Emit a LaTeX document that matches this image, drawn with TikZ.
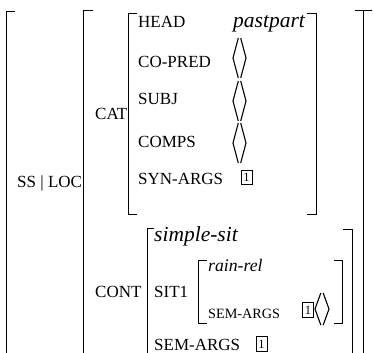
\documentclass[tikz,border=0pt]{standalone}
\usepackage{fontspec}
\setmainfont{Liberation Serif}
% empty list: a pair of tall angle brackets; #1 = left x, #2 = middle y, #3 = half height, #4 = half width
\newcommand\emptylist[4]{%
  \draw[anglepen] (#1+#4-1.2,#2-#3) -- (#1,#2) -- (#1+#4-1.2,#2+#3);
  \draw[anglepen] (#1+#4+1.2,#2-#3) -- (#1+2*#4,#2) -- (#1+#4+1.2,#2+#3);}
% square brackets: #1 = x, #2 = top, #3 = bottom, #4 = tick length (negative for a right bracket)
\newcommand\sqbrk[4]{\draw[brk] (#1+#4,#2) -- (#1,#2) -- (#1,#3) -- (#1+#4,#3);}
\begin{document}
\begin{tikzpicture}[x=1pt,y=-1pt,
  brk/.style={line width=0.95pt, line cap=rect},
  anglepen/.style={line width=1.1pt},
  attr/.style={inner sep=0pt, anchor=base west, font=\fontsize{17}{19}\selectfont},
  iattr/.style={inner sep=0pt, anchor=base west, font=\fontsize{14.2}{16}\selectfont},
  typ/.style={inner sep=0pt, anchor=base west, font=\fontsize{21.5}{24}\selectfont\itshape},
  ityp/.style={inner sep=0pt, anchor=base west, font=\fontsize{17.7}{20}\selectfont\itshape},
  tag/.style={draw, line width=0.7pt, inner sep=0pt, minimum width=11pt, minimum height=14.5pt,
    font=\fontsize{12.5}{13}\selectfont}]
\useasboundingbox (0,0) rectangle (373,353);

% outer levels
\sqbrk{6}{11}{360}{9}
\sqbrk{83}{10}{360}{10}
\draw[brk] (355,10) -- (372,10);
\draw[brk] (363,10) -- (363,360);

\node[attr] (ssloc) at (17,188) {SS | LOC};

% CAT value
\node[attr] (cat) at (95,120) {CAT};
\sqbrk{128}{13}{214}{9}
\sqbrk{316}{13}{214}{-9}
\node[attr] (head) at (138,27.5) {HEAD};
\node[typ] (pastpart) at (233,27.5) {pastpart};
\node[attr] (copred) at (138,68) {CO-PRED};
\node[attr] (subj) at (138,105) {SUBJ};
\node[attr] (comps) at (138,147.5) {COMPS};
\node[attr] (synargs) at (138,185) {SYN-ARGS};
\emptylist{233}{58}{20}{6.5}
\emptylist{233}{101}{20}{6.5}
\emptylist{233}{143}{20}{6.5}
\node[tag] (tagA) at (246.5,177.5) {1};

% CONT value
\node[attr] (cont) at (95,298) {CONT};
\sqbrk{147}{228}{360}{7}
\sqbrk{352}{229}{360}{-9}
\node[typ] (simplesit) at (154,242) {simple-sit};
\node[attr] (sit1) at (154,298) {SIT1};
\sqbrk{198}{260}{323}{9}
\sqbrk{342}{260}{323}{-8}
\node[ityp] (rainrel) at (208,272) {rain-rel};
\node[iattr] (isemargs) at (208,318) {SEM-ARGS};
\node[tag] (tagB) at (308,310) {1};
\emptylist{315}{309}{16}{7}
\node[attr] (semargs) at (154,350) {SEM-ARGS};
\node[tag] (tagC) at (261.5,344) {1};
\end{tikzpicture}
\end{document}
